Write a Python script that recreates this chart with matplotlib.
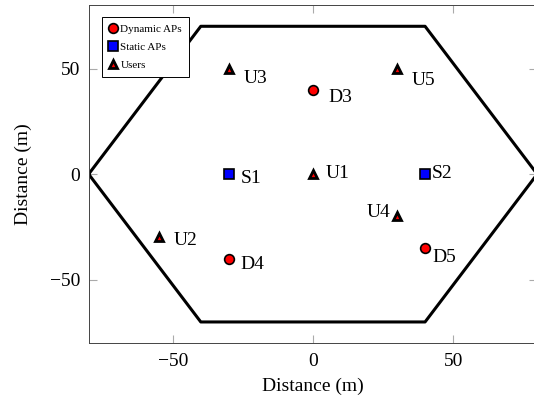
import numpy as np
import matplotlib
matplotlib.use('Agg')
import matplotlib.pyplot as plt

plt.rcParams['font.family'] = ['Liberation Serif', 'DejaVu Serif']
plt.rcParams['mathtext.fontset'] = 'stix'

# hexagon cell border
hex_x = [-80, -40, 40, 80, 40, -40, -80]
hex_y = [0, 70, 70, 0, -70, -70, 0]

# access points and users
dyn_names = ['D3', 'D4', 'D5']
dyn_x = [0, -30, 40]
dyn_y = [40, -40, -35]

sta_names = ['S1', 'S2']
sta_x = [-30, 40]
sta_y = [0, 0]

usr_names = ['U1', 'U2', 'U3', 'U4', 'U5']
usr_x = [0, -55, -30, 30, 30]
usr_y = [0, -30, 50, -20, 50]

# label offsets in points (dx, dy, ha)
offsets = {
    'D3': (11, -6, 'left'), 'D4': (8, -4.5, 'left'), 'D5': (5, -7, 'left'),
    'S1': (8.5, -3.5, 'left'), 'S2': (5, 0.5, 'left'),
    'U1': (9, 0.5, 'left'), 'U2': (10.5, -2, 'left'), 'U3': (11, -7.5, 'left'),
    'U4': (-4.5, 2.5, 'right'), 'U5': (10.5, -8.5, 'left'),
}

fig = plt.figure(figsize=(5.34, 3.98), dpi=100)
ax = fig.add_axes([0.166, 0.138, 0.84, 0.849])

ax.plot(hex_x, hex_y, color='black', linewidth=2.2)

ax.plot(dyn_x, dyn_y, 'o', color='red', markeredgecolor='black', markersize=7,
        markeredgewidth=1.2, linestyle='none', label='Dynamic APs', zorder=3)
ax.plot(sta_x, sta_y, 's', color='blue', markeredgecolor='black', markersize=6.5,
        markeredgewidth=1.2, linestyle='none', label='Static APs', zorder=3)
ax.plot(usr_x, usr_y, '^', color='red', markeredgecolor='black', markersize=6,
        markeredgewidth=2.0, linestyle='none', label='Users', zorder=3)

for names, xs, ys in [(dyn_names, dyn_x, dyn_y), (sta_names, sta_x, sta_y),
                      (usr_names, usr_x, usr_y)]:
    for n, x, y in zip(names, xs, ys):
        dx, dy, ha = offsets[n]
        ax.annotate(n, (x, y), xytext=(dx, dy), textcoords='offset points',
                    ha=ha, va='center', fontsize=14)

ax.set_xlim(-80, 80)
ax.set_ylim(-80, 80)
ax.set_xticks([-50, 0, 50])
ax.set_yticks([-50, 0, 50])
ax.tick_params(direction='in', length=6, width=0.8, color='#aaaaaa',
               top=True, right=True, labelsize=14)
ax.tick_params(axis='x', pad=7)
ax.tick_params(axis='y', pad=6)
for s in ax.spines.values():
    s.set_linewidth(0.7)
    s.set_color('#444444')

ax.set_xlabel('Distance (m)', fontsize=14, labelpad=6)
ax.set_ylabel('Distance (m)', fontsize=14, labelpad=13)

leg = ax.legend(loc='upper left', bbox_to_anchor=(0.03, 0.965), borderaxespad=0,
                fontsize=8, fancybox=False, edgecolor='black', framealpha=1,
                handlelength=0.7, handletextpad=0.3, borderpad=0.65,
                labelspacing=0.75, markerscale=1.0)
leg.get_frame().set_linewidth(0.7)

fig.savefig('out.png', dpi=100)
